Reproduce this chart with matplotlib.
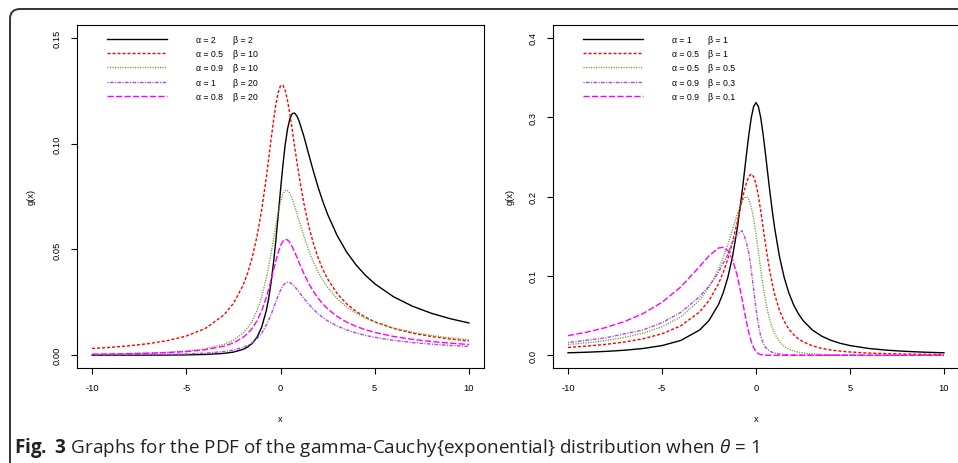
import matplotlib
matplotlib.use('Agg')
import matplotlib.pyplot as plt
from matplotlib.lines import Line2D
from matplotlib.patches import FancyBboxPatch
from matplotlib.transforms import IdentityTransform

plt.rcParams['font.family'] = ['Liberation Sans', 'DejaVu Sans']
plt.rcParams['mathtext.fontset'] = 'custom'
plt.rcParams['mathtext.rm'] = 'Open Sans'
plt.rcParams['mathtext.bf'] = 'Open Sans:bold'
plt.rcParams['mathtext.it'] = 'Open Sans:italic'

# shared x grid (denser around the peaks)
x = [-10, -9, -8, -7, -6, -5, -4, -3, -2.5, -2, -1.75, -1.5, -1.25, -1, -0.75, -0.625, -0.5,
     -0.375, -0.25, -0.125, 0, 0.125, 0.25, 0.375, 0.5, 0.625, 0.75, 0.875, 1, 1.25, 1.5,
     1.75, 2, 2.25, 2.5, 3, 3.5, 4, 4.5, 5, 6, 7, 8, 9, 10]

# left panel
left_a2_b2 = [0.0000258, 0.0000355, 0.0000505, 0.0000753, 0.000119, 0.000205, 0.000395,
              0.000907, 0.00151, 0.00275, 0.00387, 0.00563, 0.00847, 0.01322, 0.02122, 0.02703,
              0.03437, 0.04339, 0.05401, 0.06581, 0.07801, 0.08956, 0.09947, 0.10698, 0.1118,
              0.11419, 0.1144, 0.11294, 0.1103, 0.1031, 0.09487, 0.08675, 0.07927, 0.07255,
              0.06658, 0.05667, 0.04891, 0.04278, 0.03783, 0.03379, 0.02763, 0.0232, 0.01987,
              0.0173, 0.01527]
left_a05_b10 = [0.00322, 0.00378, 0.00451, 0.00551, 0.00693, 0.00909, 0.01261, 0.01904, 0.02448,
                0.03281, 0.0387, 0.04627, 0.05603, 0.06858, 0.08418, 0.09293, 0.1019, 0.11059,
                0.1182, 0.12404, 0.1273, 0.12761, 0.1251, 0.12023, 0.1137, 0.10635, 0.09866,
                0.09112, 0.08397, 0.07133, 0.06099, 0.05266, 0.04596, 0.0405, 0.03604, 0.02926,
                0.02439, 0.02079, 0.01802, 0.01584, 0.01267, 0.01048, 0.00889, 0.00769, 0.00676]
left_a09_b10 = [0.000539, 0.000659, 0.000824, 0.001063, 0.001424, 0.002009, 0.003052, 0.005164,
                0.00713, 0.0104, 0.01289, 0.01627, 0.02097, 0.02752, 0.03652, 0.04206, 0.04822,
                0.05478, 0.06139, 0.06752, 0.07259, 0.07612, 0.07786, 0.07785, 0.07637, 0.07381,
                0.07055, 0.06693, 0.06319, 0.05596, 0.04952, 0.04399, 0.03933, 0.03541, 0.03208,
                0.02685, 0.02295, 0.01996, 0.01761, 0.01572, 0.01289, 0.01088, 0.00938, 0.00823,
                0.00732]
left_a1_b20 = [0.000163, 0.000201, 0.000254, 0.000333, 0.000452, 0.000651, 0.001011, 0.001763,
               0.002483, 0.003706, 0.004651, 0.005962, 0.007815, 0.01046, 0.0142, 0.01656,
               0.01924, 0.02217, 0.02522, 0.02816, 0.03075, 0.03274, 0.03399, 0.03449, 0.03429,
               0.03357, 0.03247, 0.03114, 0.0297, 0.02678, 0.02406, 0.02167, 0.0196, 0.01783,
               0.01631, 0.01386, 0.01201, 0.01057, 0.00942, 0.00849, 0.00706, 0.00604, 0.00526,
               0.00466, 0.00418]
left_a08_b20 = [0.000505, 0.000611, 0.000756, 0.000962, 0.001269, 0.001758, 0.002614, 0.004302,
                0.005844, 0.008366, 0.01024, 0.01277, 0.01623, 0.02098, 0.0274, 0.03128, 0.03554,
                0.04003, 0.04447, 0.0485, 0.05173, 0.05387, 0.05477, 0.05445, 0.05318, 0.0512,
                0.04879, 0.04617, 0.0435, 0.03842, 0.03393, 0.03012, 0.02692, 0.02423, 0.02196,
                0.01839, 0.01574, 0.0137, 0.0121, 0.01083, 0.00889, 0.00753, 0.00651, 0.00573,
                0.0051]

# right panel
right_a1_b1 = [0.00315, 0.00388, 0.0049, 0.00637, 0.0086, 0.01224, 0.01872, 0.03183, 0.0439,
               0.06366, 0.07835, 0.09794, 0.12422, 0.15915, 0.20372, 0.2289, 0.25465, 0.27907,
               0.29958, 0.31341, 0.31831, 0.31341, 0.29958, 0.27907, 0.25465, 0.2289, 0.20372,
               0.18028, 0.15915, 0.12422, 0.09794, 0.07835, 0.06366, 0.05251, 0.0439, 0.03183,
               0.02402, 0.01872, 0.01498, 0.01224, 0.0086, 0.00637, 0.0049, 0.00388, 0.00315]
right_a05_b1 = [0.0099, 0.01157, 0.01375, 0.01671, 0.02089, 0.02712, 0.03708, 0.05465, 0.06894,
                0.08988, 0.104, 0.1214, 0.14253, 0.1674, 0.1943, 0.20709, 0.218, 0.22552, 0.2283,
                0.22512, 0.2157, 0.20078, 0.182, 0.16133, 0.1407, 0.12135, 0.1041, 0.08904,
                0.07625, 0.05651, 0.04269, 0.03295, 0.02596, 0.02086, 0.01705, 0.0119, 0.00871,
                0.00661, 0.00518, 0.00415, 0.00283, 0.00204, 0.00154, 0.0012, 0.00096]
right_a05_b05 = [0.01356, 0.01578, 0.01867, 0.02256, 0.02799, 0.03594, 0.04836, 0.06936, 0.08568,
                 0.1083, 0.12279, 0.1395, 0.15827, 0.1776, 0.1937, 0.19851, 0.1996, 0.19588,
                 0.1866, 0.17179, 0.1525, 0.13073, 0.1086, 0.08802, 0.0701, 0.05529, 0.0434,
                 0.03415, 0.027, 0.0172, 0.0113, 0.0077, 0.0054, 0.00393, 0.0029, 0.0017, 0.00109,
                 0.0007, 0.00051, 0.0004, 0.0002, 0.00013, 0.0001, 0.00005, 0.0]
right_a09_b03 = [0.016, 0.019, 0.022, 0.027, 0.032, 0.041, 0.054, 0.074, 0.087, 0.104, 0.116,
                 0.127, 0.143, 0.152, 0.157, 0.151, 0.141, 0.128, 0.107, 0.083, 0.058, 0.039,
                 0.024, 0.016, 0.010, 0.0072, 0.005, 0.0037, 0.0028, 0.0016, 0.001, 0.0007,
                 0.0004, 0.0003, 0.0002, 0.0, 0.0, 0.0, 0.0, 0.0, 0.0, 0.0, 0.0, 0.0, 0.0]
right_a09_b01 = [0.02471, 0.02915, 0.03489, 0.04245, 0.05268, 0.0667, 0.08615, 0.1118, 0.1253,
                 0.1351, 0.136, 0.132, 0.12077, 0.1006, 0.0722, 0.05647, 0.0412, 0.02772, 0.017,
                 0.00948, 0.0048, 0.00222, 0.00096, 0.00039, 0.00016, 0.00006, 0.0, 0.0, 0.0,
                 0.0, 0.0, 0.0, 0.0, 0.0, 0.0, 0.0, 0.0, 0.0, 0.0, 0.0, 0.0, 0.0, 0.0, 0.0, 0.0]

left_alpha = ['α = 2', 'α = 0.5', 'α = 0.9', 'α = 1', 'α = 0.8']
left_beta = ['β = 2', 'β = 10', 'β = 10', 'β = 20', 'β = 20']
right_alpha = ['α = 1', 'α = 0.5', 'α = 0.5', 'α = 0.9', 'α = 0.9']
right_beta = ['β = 1', 'β = 1', 'β = 0.5', 'β = 0.3', 'β = 0.1']

left_yticks = [0.00, 0.05, 0.10, 0.15]
right_yticks = [0.0, 0.1, 0.2, 0.3, 0.4]
xticks = [-10, -5, 0, 5, 10]

colors = ['black', 'red', '#6B9A2E', '#A64CF0', '#FF00FF']
styles = ['-', (0, (2.2, 1.4)), (0, (0.8, 1.0)), (0, (0.8, 1.0, 2.6, 1.0)), (0, (4.5, 1.6))]

W, H = 958, 464
FS = 6.7


def draw_panel(ax, curves, alphas, betas, yticks, ylim, fmt, ylab_x):
    lines = []
    for y, c, ls in zip(curves, colors, styles):
        ln, = ax.plot(x, y, color=c, linestyle=ls, linewidth=1.0)
        lines.append(ln)
    ax.set_xlim(-10.8, 10.8)
    ax.set_ylim(*ylim)
    ax.set_xticks(xticks)
    ax.set_xticklabels([str(t) for t in xticks])
    ax.set_yticks(yticks)
    ax.set_yticklabels([fmt.format(t) for t in yticks])
    ax.tick_params(direction='out', length=4.3, width=0.8, pad=6.5, labelsize=FS)
    for lab in ax.get_yticklabels():
        lab.set_rotation(90)
        lab.set_va('center')
        lab.set_ha('right')
    for sp in ax.spines.values():
        sp.set_linewidth(0.8)
    ax.set_xlabel('x', fontsize=FS)
    ax.xaxis.set_label_coords(0.5, -0.134)
    ax.set_ylabel('g(x)', fontsize=FS)
    ax.yaxis.set_label_coords(ylab_x, 0.5)

    leg1 = ax.legend(lines, alphas, loc='upper left', bbox_to_anchor=(0.074, 0.972),
                     frameon=False, fontsize=6.3, handlelength=6.9, handletextpad=3.3,
                     labelspacing=0.62, borderpad=0, borderaxespad=0)
    ax.add_artist(leg1)
    blanks = [Line2D([], [], linestyle='none') for _ in betas]
    ax.legend(blanks, betas, loc='upper left', bbox_to_anchor=(0.383, 0.972),
              frameon=False, fontsize=6.3, handlelength=0, handletextpad=0,
              labelspacing=0.62, borderpad=0, borderaxespad=0)


fig = plt.figure(figsize=(W / 100, H / 100), dpi=100)
ax1 = fig.add_axes([77 / W, 1 - 369 / H, 407 / W, 343 / H])
ax2 = fig.add_axes([553 / W, 1 - 369 / H, 406 / W, 343 / H])

draw_panel(ax1, [left_a2_b2, left_a05_b10, left_a09_b10, left_a1_b20, left_a08_b20],
           left_alpha, left_beta, left_yticks, (-0.006, 0.156), '{:.2f}', -0.102)
draw_panel(ax2, [right_a1_b1, right_a05_b1, right_a05_b05, right_a09_b03, right_a09_b01],
           right_alpha, right_beta, right_yticks, (-0.016, 0.416), '{:.1f}', -0.095)

# rounded frame around the figure (runs off the right and bottom edges)
frame = FancyBboxPatch((10, -30), W + 40, H - 10 + 30,
                       boxstyle='round,pad=0,rounding_size=10',
                       transform=IdentityTransform(), facecolor='none',
                       edgecolor='#333333', linewidth=1.4)
fig.add_artist(frame)

fig.text(14 / W, 1 - 448 / H,
         r'$\mathbf{Fig.\ 3}$ Graphs for the PDF of the gamma-Cauchy{exponential} '
         r'distribution when $\mathit{\theta}$ = 1',
         fontsize=13.6, family='Open Sans', va='center', ha='left', color='#222222')

fig.savefig('out.png', dpi=100)
